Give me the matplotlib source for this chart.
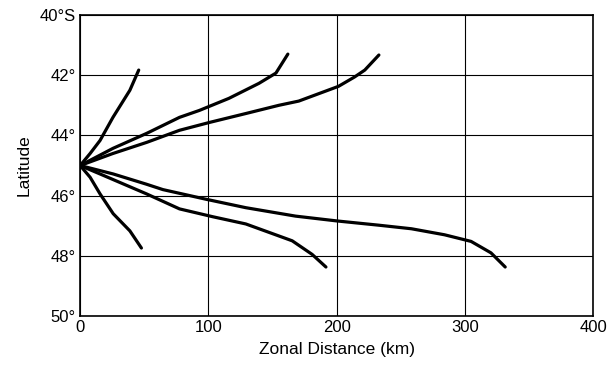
import matplotlib
matplotlib.use('Agg')
import matplotlib.pyplot as plt

plt.rcParams['font.family'] = ['Liberation Sans', 'DejaVu Sans']

# trajectories: zonal distance (km) and latitude (deg S)
a_x = [0, 7.8, 15.5, 25.6, 38.8, 45.7]
a_lat = [45.0, 44.6, 44.17, 43.4, 42.5, 41.83]

b_x = [0, 25.6, 52, 77.5, 93, 116, 139.5, 152.7, 162]
b_lat = [45.0, 44.43, 43.93, 43.4, 43.17, 42.77, 42.27, 41.93, 41.3]

c_x = [0, 25.6, 52, 77.5, 100.8, 129.5, 155, 170.5, 201.5, 214, 222, 233]
c_lat = [45.0, 44.6, 44.23, 43.83, 43.57, 43.27, 43.0, 42.86, 42.37, 42.06, 41.83, 41.33]

d_x = [0, 7.8, 15.5, 25.8, 38.8, 47.8]
d_lat = [45.0, 45.39, 45.94, 46.6, 47.17, 47.74]

e_x = [0, 15.5, 33.6, 51.7, 77.5, 103.4, 129.2, 149.9, 165.4, 180.9, 191.7]
e_lat = [45.0, 45.28, 45.61, 45.94, 46.44, 46.7, 46.94, 47.26, 47.5, 47.95, 48.37]

f_x = [0, 25.8, 51.7, 64.6, 98.2, 129.2, 168, 200.2, 232.6, 258.4, 284.2, 304.9, 320.4, 331.5]
f_lat = [45.0, 45.28, 45.62, 45.8, 46.12, 46.4, 46.68, 46.84, 46.98, 47.1, 47.3, 47.52, 47.9, 48.37]

x_ticks = [0, 100, 200, 300, 400]
y_ticks = [40, 42, 44, 46, 48, 50]
y_labels = ['40°S', '42°', '44°', '46°', '48°', '50°']

fig = plt.figure(figsize=(6.07, 3.65), dpi=100)
ax = fig.add_axes([0.132, 0.134, 0.845, 0.825])

for xs, ys in [(a_x, a_lat), (b_x, b_lat), (c_x, c_lat), (d_x, d_lat), (e_x, e_lat), (f_x, f_lat)]:
    ax.plot(xs, ys, color='black', linewidth=2.3, solid_capstyle='round',
            solid_joinstyle='round', zorder=3)

ax.set_xlim(0, 400)
ax.set_ylim(50, 40)
ax.set_xticks(x_ticks)
ax.set_yticks(y_ticks)
ax.set_yticklabels(y_labels)
ax.tick_params(length=0, labelsize=12, pad=3)
ax.grid(True, color='black', linewidth=0.8)
for s in ax.spines.values():
    s.set_linewidth(1.2)

ax.set_xlabel('Zonal Distance (km)', fontsize=12.5, labelpad=5)
ax.set_ylabel('Latitude', fontsize=12.5, labelpad=6)

fig.savefig('out.png', dpi=100)
